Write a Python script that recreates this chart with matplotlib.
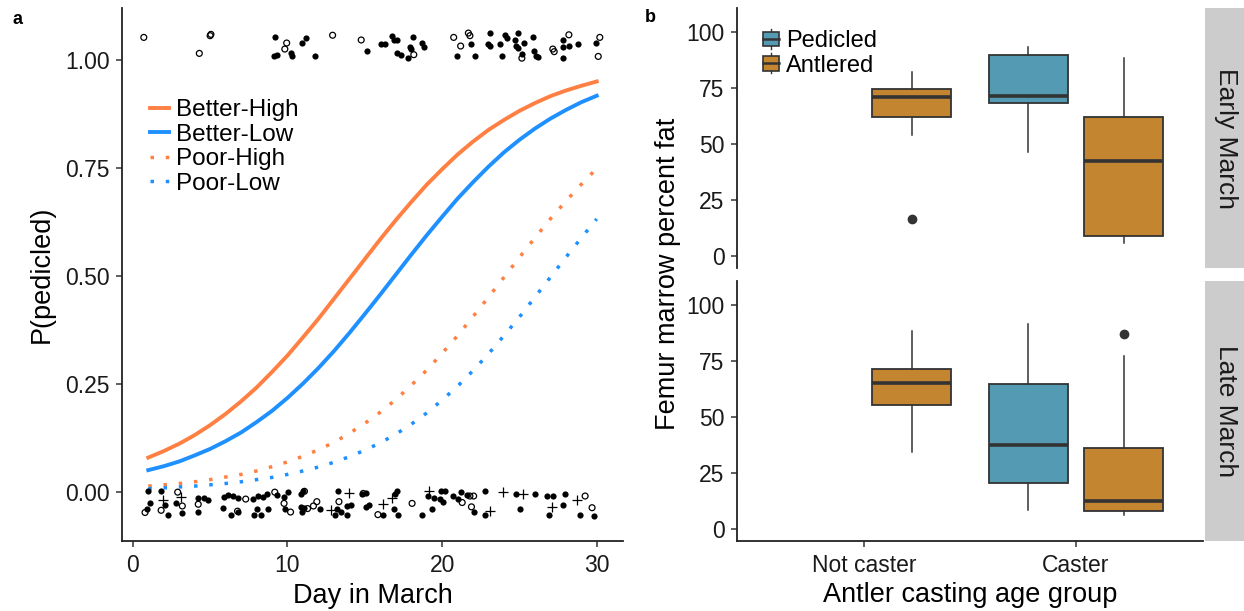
import matplotlib
matplotlib.use('Agg')
import matplotlib.pyplot as plt
from matplotlib.lines import Line2D
from matplotlib.patches import Rectangle, Patch
from matplotlib.legend_handler import HandlerBase

plt.rcParams['font.family'] = ['Liberation Sans', 'DejaVu Sans']

ORANGE = '#ff8042'
BLUE = '#1e90ff'
PED_COL = '#549ab2'
ANT_COL = '#c48530'
DARK = '#333333'

# --- panel a: fitted probability of being pedicled, by day in March ---
days = list(range(1, 31))
better_high = [0.080, 0.095, 0.112, 0.132, 0.155, 0.181, 0.210, 0.242, 0.278, 0.316,
               0.358, 0.401, 0.447, 0.493, 0.539, 0.585, 0.629, 0.671, 0.711, 0.747,
               0.781, 0.811, 0.838, 0.861, 0.882, 0.900, 0.916, 0.929, 0.940, 0.950]
better_low = [0.051, 0.060, 0.071, 0.085, 0.100, 0.118, 0.138, 0.162, 0.188, 0.218,
              0.251, 0.287, 0.326, 0.368, 0.412, 0.457, 0.503, 0.549, 0.594, 0.637,
              0.679, 0.717, 0.753, 0.786, 0.815, 0.841, 0.864, 0.884, 0.902, 0.917]
poor_high = [0.014, 0.017, 0.020, 0.024, 0.029, 0.035, 0.041, 0.049, 0.059, 0.070,
             0.083, 0.098, 0.115, 0.136, 0.159, 0.185, 0.214, 0.247, 0.282, 0.321,
             0.362, 0.406, 0.451, 0.497, 0.543, 0.588, 0.632, 0.673, 0.712, 0.749]
poor_low = [0.008, 0.010, 0.012, 0.014, 0.017, 0.020, 0.024, 0.029, 0.034, 0.041,
            0.049, 0.058, 0.069, 0.082, 0.097, 0.114, 0.134, 0.157, 0.183, 0.213,
            0.245, 0.281, 0.320, 0.362, 0.405, 0.451, 0.497, 0.543, 0.588, 0.632]

# observed animals (jittered around 1 = pedicled, 0 = antlered)
filled_day = [9.18, 9.1, 9.35, 10.26, 10.32, 10.97, 11.18, 11.76, 15.16, 16.06, 16.34,
              16.77, 16.92, 17.1, 18.1, 17.9, 18.0, 17.1, 17.35, 17.8, 18.7, 18.86,
              20.97, 21.9, 22.1, 23.07, 22.94, 23.07, 23.87, 23.76, 24.08, 24.19, 24.88,
              24.7, 24.8, 24.88, 25.3, 25.2, 25.9, 25.95, 26.1, 26.2, 27.85, 27.85,
              28.2, 27.8, 28.8, 29.95,
              1.0, 1.8, 1.14, 0.92, 2.08, 2.26, 2.8, 3.16, 4.23, 4.62, 4.88, 4.19,
              5.9, 6.17, 6.45, 6.8, 5.8, 6.34, 6.8, 7.8, 8.1, 8.4, 8.7, 8.06, 8.28,
              7.85, 8.75, 9.35, 10.04, 9.78, 9.83, 10.86, 11.03, 10.86, 10.97, 11.1,
              12.1, 13.27, 13.23, 13.1, 13.87, 13.44, 13.87, 14.13, 14.8, 15.05,
              15.05, 15.26, 16.2, 17.1, 16.98, 16.9, 17.15, 18.7, 19.35, 19.07, 19.46,
              19.85, 19.94, 20.2, 20.06, 20.7, 21.0, 21.2, 21.6, 22.04, 22.8, 22.8,
              24.8, 26.0, 25.05, 26.8, 27.2, 27.95, 26.94, 27.85, 28.9, 29.8]
filled_p = [1.054, 1.009, 1.012, 1.017, 1.009, 1.040, 1.050, 1.008, 1.021, 1.036, 1.036,
            1.056, 1.046, 1.045, 1.054, 1.029, 1.025, 1.015, 1.011, 1.004, 1.039, 1.029,
            1.008, 1.037, 1.009, 1.063, 1.037, 1.032, 1.008, 1.037, 1.058, 1.050, 1.063,
            1.045, 1.032, 1.027, 1.040, 1.014, 1.052, 1.021, 1.009, 1.006, 1.045, 1.029,
            1.032, 1.004, 1.037, 1.039,
            0.002, 0.002, -0.024, -0.038, -0.030, -0.053, -0.026, -0.049, -0.013,
            -0.013, -0.019, -0.047, -0.011, -0.007, -0.009, -0.013, -0.036, -0.052,
            -0.047, -0.015, -0.009, -0.011, -0.005, -0.038, -0.052, -0.052, -0.039,
            -0.007, 0.000, -0.011, -0.038, -0.005, 0.002, -0.034, -0.046, -0.036,
            -0.039, 0.002, -0.038, -0.052, -0.052, -0.047, -0.032, -0.030, -0.005,
            -0.003, -0.034, -0.030, -0.052, 0.002, -0.005, -0.038, -0.052, -0.052,
            -0.038, -0.009, -0.013, -0.015, 0.002, 0.002, -0.022, -0.009, -0.015,
            0.000, -0.007, -0.047, -0.052, 0.002, -0.005, -0.005, -0.038, -0.009,
            -0.009, -0.005, -0.052, -0.030, -0.052, -0.055]
open_day = [0.71, 5.0, 5.05, 4.3, 9.95, 9.83, 12.92, 14.77, 18.17, 20.75, 21.2, 21.7,
            21.8, 25.16, 27.16, 27.25, 28.2, 30.2, 30.1,
            2.9, 0.79, 1.83, 3.2, 4.23, 7.3, 6.77, 9.18, 9.78, 10.2, 11.1, 11.68,
            11.9, 11.3, 13.33, 14.9, 15.85, 18.06, 21.3, 21.8, 22.04, 21.9, 29.25, 29.7]
open_p = [1.052, 1.056, 1.059, 1.015, 1.039, 1.025, 1.057, 1.046, 1.012, 1.052, 1.032,
          1.062, 1.056, 1.004, 1.025, 1.019, 1.058, 1.052, 1.008,
          0.000, -0.047, -0.042, -0.032, -0.028, -0.016, -0.044, 0.000, -0.026,
          -0.046, 0.002, -0.032, -0.022, -0.038, -0.022, -0.003, -0.052, -0.026,
          -0.024, -0.009, -0.009, -0.034, -0.009, -0.036]
plus_day = [3.1, 1.94, 13.97, 12.8, 16.2, 16.77, 19.13, 23.07, 23.97, 25.26, 27.1, 28.75]
plus_p = [-0.011, -0.019, -0.003, -0.042, -0.028, -0.013, 0.002, -0.044, 0.000, -0.005,
          -0.034, -0.019]

# --- panel b: femur marrow fat by casting group ---
cast_groups = ['Not caster', 'Caster']
box_group = ['Not caster', 'Caster', 'Caster']
box_status = ['Antlered', 'Pedicled', 'Antlered']
early_med = [70.9, 71.2, 42.2]
early_q1 = [62.0, 68.4, 8.9]
early_q3 = [74.7, 89.5, 62.1]
early_lo = [53.8, 46.4, 5.5]
early_hi = [82.0, 93.2, 88.4]
early_out = [[16.3], [], []]
late_med = [65.3, 37.4, 12.2]
late_q1 = [55.2, 20.2, 7.9]
late_q3 = [71.5, 64.7, 35.9]
late_lo = [34.1, 8.5, 6.2]
late_hi = [88.3, 91.5, 77.0]
late_out = [[], [], [87.1]]


class BoxKey(HandlerBase):
    # little boxplot glyph for the legend keys
    def create_artists(self, legend, orig_handle, xdescent, ydescent,
                       width, height, fontsize, trans):
        x0, y0 = -xdescent, -ydescent
        face = orig_handle.get_facecolor()
        wh = Line2D([x0 + width / 2] * 2, [y0 - 0.2 * height, y0 + 1.2 * height],
                    color=DARK, lw=1.0, transform=trans)
        box = Rectangle((x0, y0), width, height, facecolor=face,
                        edgecolor=DARK, lw=1.2, transform=trans)
        med = Line2D([x0, x0 + width], [y0 + height / 2] * 2,
                     color=DARK, lw=1.8, transform=trans)
        return [wh, box, med]


def style_axis(ax):
    for s in ['top', 'right']:
        ax.spines[s].set_visible(False)
    for s in ['left', 'bottom']:
        ax.spines[s].set_linewidth(1.3)
        ax.spines[s].set_color('#222222')
    ax.tick_params(length=4.5, width=1.1, color=DARK, labelsize=16.5,
                   labelcolor='#1a1a1a', pad=4.5)


fig = plt.figure(figsize=(12.44, 6.11), dpi=100)

ax = fig.add_axes([122 / 1244, 1 - 541 / 611, 501 / 1244, 533 / 611])
dots = (0, (1, 3.4))
ax.plot(days, better_high, color=ORANGE, lw=2.8, label='Better-High')
ax.plot(days, better_low, color=BLUE, lw=2.8, label='Better-Low')
ax.plot(days, poor_high, color=ORANGE, lw=2.5, linestyle=dots, label='Poor-High')
ax.plot(days, poor_low, color=BLUE, lw=2.5, linestyle=dots, label='Poor-Low')
ax.scatter(filled_day, filled_p, s=20, color='black', linewidths=0, zorder=3)
ax.scatter(open_day, open_p, s=18, facecolors='none', edgecolors='black',
           linewidths=0.9, zorder=3)
ax.scatter(plus_day, plus_p, s=45, marker='+', color='black', linewidths=0.9, zorder=3)
ax.set_xlim(-0.7, 31.7)
ax.set_ylim(-0.113, 1.12)
ax.set_xticks([0, 10, 20, 30])
ax.set_yticks([0, 0.25, 0.5, 0.75, 1.0])
ax.set_yticklabels(['0.00', '0.25', '0.50', '0.75', '1.00'])
style_axis(ax)
ax.set_xlabel('Day in March', fontsize=19.5, labelpad=5)
ax.set_ylabel('P(pedicled)', fontsize=19.5, labelpad=7)
ax.legend(loc='upper left', bbox_to_anchor=(0.036, 0.847), frameon=False,
          fontsize=17.5, handlelength=0.78, handletextpad=0.3, labelspacing=0.1,
          borderaxespad=0)

# faceted boxplots
facets = [
    ('Early March', early_med, early_q1, early_q3, early_lo, early_hi, early_out, 1 - 268 / 611),
    ('Late March', late_med, late_q1, late_q3, late_lo, late_hi, late_out, 1 - 541 / 611),
]
bx_left, bx_width, f_height = 737 / 1244, 466 / 1244, 260 / 611
offset = {'Pedicled': -0.225, 'Antlered': 0.225}
colours = {'Pedicled': PED_COL, 'Antlered': ANT_COL}

for i, (name, med, q1, q3, lo, hi, out, bottom) in enumerate(facets):
    bx = fig.add_axes([bx_left, bottom, bx_width, f_height])
    stats = [dict(med=med[k], q1=q1[k], q3=q3[k], whislo=lo[k], whishi=hi[k],
                  fliers=out[k]) for k in range(len(med))]
    pos = [cast_groups.index(g) + offset[s] for g, s in zip(box_group, box_status)]
    parts = bx.bxp(stats, positions=pos, widths=0.375, patch_artist=True,
                   showcaps=False,
                   boxprops=dict(edgecolor=DARK, linewidth=1.3),
                   medianprops=dict(color=DARK, linewidth=2.6, solid_capstyle='butt'),
                   whiskerprops=dict(color=DARK, linewidth=1.1),
                   flierprops=dict(marker='o', markerfacecolor=DARK,
                                   markeredgecolor=DARK, markersize=6))
    for patch, s in zip(parts['boxes'], box_status):
        patch.set_facecolor(colours[s])
    bx.set_xlim(-0.6, 1.6)
    bx.set_ylim(-5.5, 110.7)
    bx.set_yticks([0, 25, 50, 75, 100])
    style_axis(bx)
    bx.set_xticks([0, 1])
    if i == 0:
        bx.spines['bottom'].set_visible(False)
        bx.tick_params(axis='x', bottom=False, labelbottom=False)
        handles = [Patch(facecolor=PED_COL, label='Pedicled'),
                   Patch(facecolor=ANT_COL, label='Antlered')]
        bx.legend(handles=handles, handler_map={Patch: BoxKey()}, loc='upper left',
                  bbox_to_anchor=(0.035, 0.95), frameon=False, fontsize=17,
                  handlelength=0.68, handleheight=0.55, handletextpad=0.3,
                  labelspacing=0.1, borderaxespad=0)
    else:
        bx.set_xticklabels(cast_groups)
        bx.set_xlabel('Antler casting age group', fontsize=19.5, labelpad=4)

    strip = fig.add_axes([1205 / 1244, bottom, 0.04, f_height])
    strip.set_facecolor('#cccccc')
    strip.set_xticks([])
    strip.set_yticks([])
    for s in strip.spines.values():
        s.set_visible(False)
    strip.text(0.42, 0.5, name, rotation=270, ha='center', va='center',
               fontsize=19, color='#1a1a1a', transform=strip.transAxes)

fig.text(668 / 1244, 1 - 274 / 611, 'Femur marrow percent fat', rotation=90,
         ha='center', va='center', fontsize=19.5, color='black')
fig.text(12 / 1244, 1 - 19 / 611, 'a', fontsize=13, fontweight='bold', va='center')
fig.text(645 / 1244, 1 - 17 / 611, 'b', fontsize=13, fontweight='bold', va='center')

fig.savefig('out.png', dpi=100)
